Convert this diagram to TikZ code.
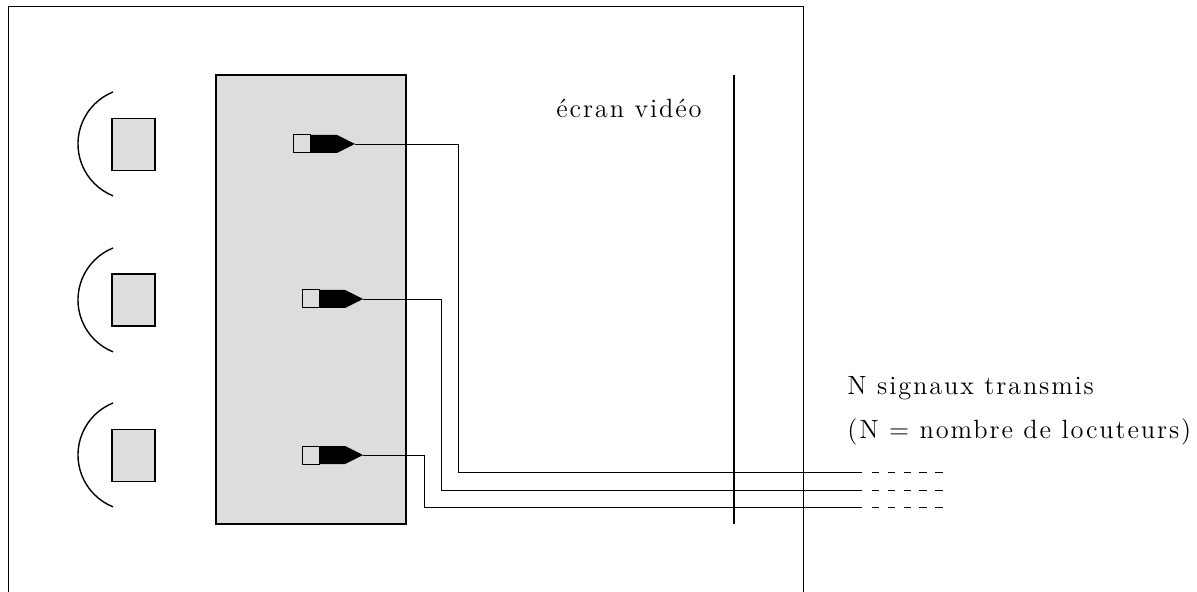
\documentclass[tikz,border=0pt]{standalone}
\usepackage{fontspec}
\setmainfont[LetterSpace=7]{Latin Modern Roman}
\usetikzlibrary{positioning,calc}
\definecolor{grisclair}{HTML}{DDDDDD}
\tikzset{
  boite/.style={draw,fill=grisclair,line width=.7pt,inner sep=0pt,minimum width=21.5pt,minimum height=26pt},
  fil/.style={line width=.45pt},
  pointille/.style={line width=.4pt,dash pattern=on 3.7pt off 4.2pt},
  texte/.style={inner sep=0pt,anchor=base west,font=\fontsize{13.2}{15}\selectfont}
}
\begin{document}
\begin{tikzpicture}[x=.5pt,y=-.5pt]
        \useasboundingbox (0,0) rectangle (1197,592);
        \draw[line width=.5pt] (8,592) -- (8,6.5) -- (803,6.5) -- (803,592);
        \node[draw,fill=grisclair,line width=.7pt,inner sep=0pt,minimum width=95pt,minimum height=224.5pt] (table) at (311,299.5) {};
        \node[boite] (carre1) at (133.5,144.5) {};
        \node[boite] (carre2) at (133.5,300) {};
        \node[boite] (carre3) at (133.5,455.5) {};
        \draw[line width=.7pt] (113,92) arc[start angle=112,end angle=248,radius=28pt];
        \draw[line width=.7pt] (113,248) arc[start angle=112,end angle=248,radius=28pt];
        \draw[line width=.7pt] (113,403) arc[start angle=112,end angle=248,radius=28pt];
        \draw[fill=grisclair,line width=.5pt] (293,135) rectangle (310,153);
        \fill (310,135) -- (337,135) -- (355,144) -- (337,153) -- (310,153) -- cycle;
        \coordinate (prise1) at (355,144);
        \draw[fill=grisclair,line width=.5pt] (302,290) rectangle (319,308);
        \fill (319,290) -- (345,290) -- (363,299) -- (345,308) -- (319,308) -- cycle;
        \coordinate (prise2) at (363,299);
        \draw[fill=grisclair,line width=.5pt] (302,446) rectangle (319,464);
        \fill (319,446) -- (345,446) -- (363,455) -- (345,464) -- (319,464) -- cycle;
        \coordinate (prise3) at (363,455);
        \coordinate (sortie1) at (862,472.5);
        \coordinate (sortie2) at (862,490);
        \coordinate (sortie3) at (862,507);
        \coordinate (fin1) at (944,472.5);
        \coordinate (fin2) at (944,490);
        \coordinate (fin3) at (944,507);
        \draw[fil] (prise1) -| (458,472.5) -- (sortie1);
        \draw[fil] (prise2) -| (441,490) -- (sortie2);
        \draw[fil] (prise3) -| (424,507) -- (sortie3);
        \draw[pointille] (872,472.5) -- (fin1);
        \draw[pointille] (872,490) -- (fin2);
        \draw[pointille] (872,507) -- (fin3);
        \draw[line width=1pt] (734,75) -- (734,524);
        \node[texte] (ecran) at (556,118) {écran vidéo};
        \node[texte] (signaux) at (847,394) {N signaux transmis};
        \node[texte] (nombre) at (847,438) {(N = nombre de locuteurs)};
      \end{tikzpicture}
\end{document}
